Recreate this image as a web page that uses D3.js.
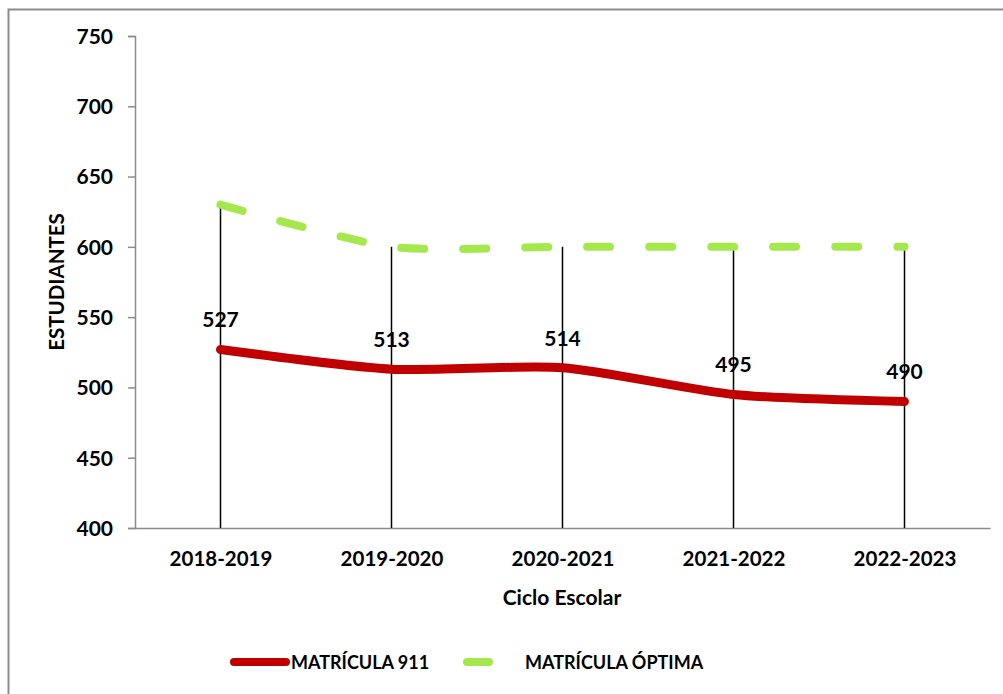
<!DOCTYPE html>
<html>
<head>
<meta charset="utf-8">
<script src="https://cdn.jsdelivr.net/npm/d3@7"></script>
<style>
  body { margin: 0; background: #fff; }
  svg text { font-family: Lato, "Open Sans", sans-serif; font-weight: bold; fill: #000; }
</style>
</head>
<body>
<div id="chart"></div>
<script>
// datos de matrícula por ciclo escolar
const ciclos = ['2018-2019', '2019-2020', '2020-2021', '2021-2022', '2022-2023'];
const matricula911 = [527, 513, 514, 495, 490];
const matriculaOptima = [630, 600, 600, 600, 600];
const yTicks = [400, 450, 500, 550, 600, 650, 700, 750];

const W = 1003, H = 694;
const svg = d3.select('#chart').append('svg')
    .attr('width', W).attr('height', H);

// marco del gráfico
svg.append('rect')
    .attr('x', 8.5).attr('y', 9.5)
    .attr('width', W + 10).attr('height', H + 10)
    .attr('fill', 'none').attr('stroke', '#8c8c8c').attr('stroke-width', 2);

const mLeft = 135, mRight = 990, mTop = 36, mBottom = 528;

const x = d3.scalePoint().domain(ciclos).range([mLeft, mRight]).padding(0.5);
const y = d3.scaleLinear().domain([400, 750]).range([mBottom, mTop]);

// eje Y
const yAxis = svg.append('g')
    .attr('transform', `translate(${mLeft},0)`)
    .call(d3.axisLeft(y).tickValues(yTicks).tickSize(7).tickPadding(15));
yAxis.select('.domain').attr('stroke', '#8c8c8c').attr('stroke-width', 1.5);
yAxis.selectAll('.tick line').attr('stroke', '#8c8c8c').attr('stroke-width', 1.5);
yAxis.selectAll('.tick text').style('font-size', '21px').attr('dy', '0.35em');

// eje X
const xAxis = svg.append('g')
    .attr('transform', `translate(0,${mBottom})`)
    .call(d3.axisBottom(x).tickSize(0).tickPadding(23).tickSizeOuter(0));
xAxis.select('.domain').attr('stroke', '#8c8c8c').attr('stroke-width', 1.5);
xAxis.selectAll('.tick text').style('font-size', '20.5px');

// líneas verticales
const rows = ciclos.map((c, i) => ({ c, a: matricula911[i], b: matriculaOptima[i] }));
svg.selectAll('.drop')
    .data(rows)
    .join('line')
    .attr('x1', d => x(d.c)).attr('x2', d => x(d.c))
    .attr('y1', d => y(Math.max(d.a, d.b)))
    .attr('y2', mBottom)
    .attr('stroke', '#000').attr('stroke-width', 1.5);

const line = d3.line()
    .x(d => x(d.c))
    .y(d => d.v)
    .curve(d3.curveCardinal.tension(0.3));

// serie óptima (discontinua)
svg.append('path')
    .datum(rows.map(d => ({ c: d.c, v: y(d.b) })))
    .attr('d', line)
    .attr('fill', 'none')
    .attr('stroke', '#a5e84e')
    .attr('stroke-width', 8)
    .attr('stroke-linecap', 'round')
    .attr('stroke-dasharray', '23 39');

// serie 911
svg.append('path')
    .datum(rows.map(d => ({ c: d.c, v: y(d.a) })))
    .attr('d', line)
    .attr('fill', 'none')
    .attr('stroke', '#c00000')
    .attr('stroke-width', 9)
    .attr('stroke-linecap', 'round');

// etiquetas de datos
svg.selectAll('.lbl')
    .data(rows)
    .join('text')
    .attr('x', d => x(d.c))
    .attr('y', d => y(d.a) - 22)
    .attr('text-anchor', 'middle')
    .style('font-size', '21px')
    .text(d => d.a);

// títulos de ejes
svg.append('text')
    .attr('x', 562).attr('y', 605)
    .attr('text-anchor', 'middle')
    .style('font-size', '21px')
    .text('Ciclo Escolar');

svg.append('text')
    .attr('transform', 'translate(64,282) rotate(-90)')
    .attr('text-anchor', 'middle')
    .style('font-size', '20.5px')
    .text('ESTUDIANTES');

// leyenda
const legend = svg.append('g');
legend.append('line')
    .attr('x1', 234).attr('x2', 286).attr('y1', 662).attr('y2', 662)
    .attr('stroke', '#c00000').attr('stroke-width', 8).attr('stroke-linecap', 'round');
legend.append('text')
    .attr('x', 291).attr('y', 669)
    .style('font-size', '18px')
    .text('MATRÍCULA 911');
legend.append('line')
    .attr('x1', 467).attr('x2', 489).attr('y1', 662).attr('y2', 662)
    .attr('stroke', '#a5e84e').attr('stroke-width', 8).attr('stroke-linecap', 'round');
legend.append('text')
    .attr('x', 525).attr('y', 669)
    .style('font-size', '18px')
    .text('MATRÍCULA ÓPTIMA');
</script>
</body>
</html>
